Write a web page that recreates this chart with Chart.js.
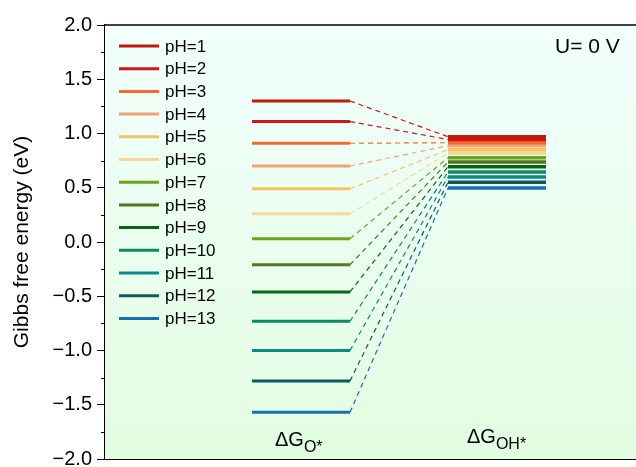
<!DOCTYPE html>
<html>
<head>
<meta charset="utf-8">
<script src="https://cdn.jsdelivr.net/npm/chart.js@4.4.1/dist/chart.umd.min.js"></script>
<style>
  html, body { margin: 0; padding: 0; background: #fff; }
  #wrap { width: 636px; height: 467px; position: relative; }
</style>
</head>
<body>
<div id="wrap"><canvas id="gibbsChart"></canvas></div>
<script>
const phLabels = ['pH=1', 'pH=2', 'pH=3', 'pH=4', 'pH=5', 'pH=6', 'pH=7', 'pH=8', 'pH=9', 'pH=10', 'pH=11', 'pH=12', 'pH=13'];
const gO = [1.30, 1.11, 0.91, 0.70, 0.49, 0.26, 0.03, -0.21, -0.46, -0.73, -1.00, -1.28, -1.57];
const gOH = [0.97, 0.945, 0.915, 0.887, 0.851, 0.817, 0.777, 0.737, 0.694, 0.645, 0.600, 0.550, 0.498];
const phColors = ['#c01b0b', '#d0141a', '#f36b2c', '#f0a272', '#f0c466', '#f5d898', '#6ba51c',
                  '#4d7a1e', '#0b6415', '#0a8a5e', '#0b8989', '#0a5c5a', '#1570b0'];
const yTicks = [-2.0, -1.5, -1.0, -0.5, 0.0, 0.5, 1.0, 1.5, 2.0];

const FONT = '"Liberation Sans", Arial, sans-serif';
// level extents along the (unitless) x axis
const oLevel = [147, 245];
const ohLevel = [343, 441];

const datasets = [];
phLabels.forEach((label, i) => {
    datasets.push({
        label,
        data: [{ x: oLevel[0], y: gO[i] }, { x: oLevel[1], y: gO[i] }],
        borderColor: phColors[i],
        borderWidth: 3
    });
    datasets.push({
        label: label + ' link',
        data: [{ x: oLevel[1], y: gO[i] }, { x: ohLevel[0], y: gOH[i] }],
        borderColor: phColors[i],
        borderWidth: 1.2,
        borderDash: [5, 4]
    });
});
phLabels.forEach((label, i) => {
    datasets.push({
        label: label + ' OH',
        data: [{ x: ohLevel[0], y: gOH[i] }, { x: ohLevel[1], y: gOH[i] }],
        borderColor: phColors[i],
        borderWidth: 3.5
    });
});

const decorPlugin = {
    id: 'decor',
    beforeDatasetsDraw(chart) {
        const { ctx, chartArea: a } = chart;
        const grad = ctx.createLinearGradient(0, a.top, 0, a.bottom);
        grad.addColorStop(0, '#f2fffd');
        grad.addColorStop(1, '#e2fde0');
        ctx.save();
        ctx.fillStyle = grad;
        ctx.fillRect(a.left, a.top, a.right - a.left, a.bottom - a.top);
        ctx.restore();
    },
    afterDraw(chart) {
        const { ctx, chartArea: a, scales } = chart;
        const y = scales.y;
        ctx.save();
        // top frame
        ctx.strokeStyle = '#000';
        ctx.lineWidth = 1.5;
        ctx.beginPath();
        ctx.moveTo(a.left, a.top);
        ctx.lineTo(a.right, a.top);
        ctx.stroke();
        // minor ticks
        ctx.lineWidth = 1;
        for (let v = -1.75; v < 2; v += 0.5) {
            const py = Math.round(y.getPixelForValue(v)) + 0.5;
            ctx.beginPath();
            ctx.moveTo(a.left - 4, py);
            ctx.lineTo(a.left, py);
            ctx.stroke();
        }
        // legend
        ctx.textBaseline = 'middle';
        ctx.font = '17px ' + FONT;
        phLabels.forEach((label, i) => {
            const ly = 46 + i * 22.7;
            ctx.strokeStyle = phColors[i];
            ctx.lineWidth = 3;
            ctx.beginPath();
            ctx.moveTo(119, ly);
            ctx.lineTo(159, ly);
            ctx.stroke();
            ctx.fillStyle = '#000';
            ctx.fillText(label, 165, ly + 1);
        });
        // annotations
        ctx.textBaseline = 'alphabetic';
        ctx.font = '21px ' + FONT;
        ctx.fillText('U= 0 V', 555, 53);
        const sub = (main, s, x, yb) => {
            ctx.font = '20px ' + FONT;
            ctx.fillText(main, x, yb);
            const w = ctx.measureText(main).width;
            ctx.font = '16px ' + FONT;
            ctx.fillText(s, x + w, yb + 6);
        };
        sub('\u0394G', 'O*', 275, 446);
        sub('\u0394G', 'OH*', 467, 443);
        ctx.restore();
    }
};

new Chart(document.getElementById('gibbsChart'), {
    type: 'line',
    data: { datasets },
    options: {
        responsive: true,
        maintainAspectRatio: false,
        animation: false,
        layout: { padding: { top: 25, bottom: 8, left: 0, right: 0 } },
        elements: { point: { radius: 0 }, line: { tension: 0 } },
        plugins: {
            legend: { display: false },
            tooltip: { enabled: false }
        },
        scales: {
            x: {
                type: 'linear',
                min: 0,
                max: 531,
                ticks: { display: false },
                grid: { display: false },
                border: { display: true, color: '#000', width: 2 },
                afterFit(scale) {
                    scale.height = 0;
                    scale.paddingLeft = scale.paddingRight = scale.paddingTop = scale.paddingBottom = 0;
                }
            },
            y: {
                min: -2,
                max: 2,
                afterBuildTicks(scale) { scale.ticks = yTicks.map(v => ({ value: v })); },
                ticks: {
                    color: '#000',
                    padding: 5,
                    font: { family: FONT, size: 20 },
                    callback: v => v.toFixed(1).replace('-', '\u2212')
                },
                grid: { drawOnChartArea: false, drawTicks: true, tickLength: 8, tickColor: '#000', tickWidth: 1 },
                border: { display: true, color: '#000', width: 1.5 },
                title: {
                    display: true,
                    text: 'Gibbs free energy (eV)',
                    color: '#000',
                    font: { family: FONT, size: 21 },
                    padding: { top: 10, bottom: 0 }
                },
                afterFit(scale) {
                    scale.width = 105;
                    scale.paddingTop = scale.paddingBottom = 0;
                }
            }
        }
    },
    plugins: [decorPlugin]
});
</script>
</body>
</html>
